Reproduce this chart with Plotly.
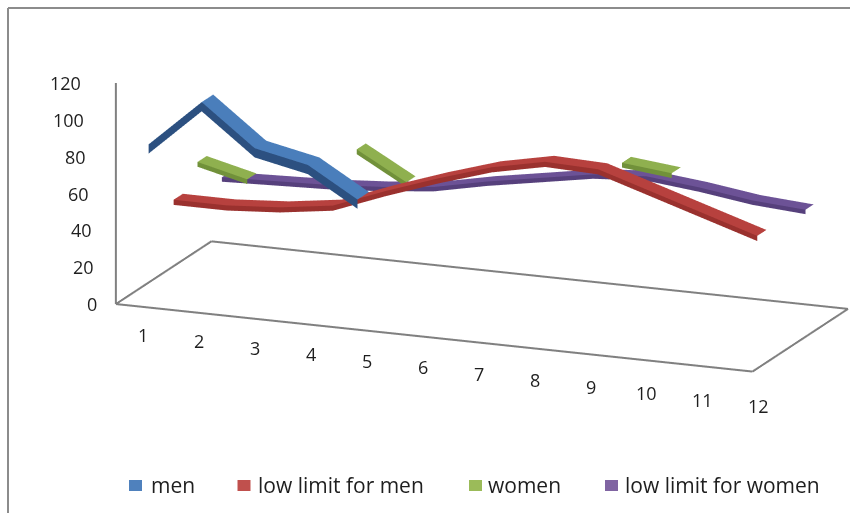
import numpy as np
import plotly.graph_objects as go

# ---------------- data ----------------
categories = list(range(1, 13))
category_labels = [str(c) for c in categories]
series_names = ["men", "low limit for men", "women", "low limit for women"]
men = [86, 112, 90, 84, 67, None, None, None, None, None, None, None]
low_limit_men = [47, 47, 49, 53, 64, 74, 83, 89, 88, 79, 70, 61]
women = [59, 52, None, 75, 59, None, None, None, 83, 80, None, None]
low_limit_women = [42, 43, 44, 46, 49, 55, 60, 65, 67, 64, 60, 58]
value_ticks = [0, 20, 40, 60, 80, 100, 120]

# ---------------- styles ----------------
top_colors = ["#4A7EBB", "#B7413E", "#8FB04F", "#6C5296"]
front_colors = ["#2C5080", "#9A312E", "#71913A", "#56407C"]
legend_colors = ["#4F81BD", "#C0504D", "#9BBB59", "#8064A2"]
half_widths = [0.24, 0.19, 0.19, 0.17]
thickness = [5.0, 2.8, 2.6, 2.4]
FONT = "Open Sans"
TXT = "#1E1E1E"
X_RANGE = [0.5, 12.5]     # chart floor extent (categories)
Y_RANGE = [0.0, 4.0]      # series depth
Z_RANGE = [0.0, 120.0]    # value axis
PAD = [0.05, 0.05, 1.0]   # small symmetric padding so the frame is inside the scene box
W, H = 850, 513
BASE_ASPECT = [2.675, 0.998, 0.8934]

fig = go.Figure()


def flat(color):
    return dict(colorscale=[[0, color], [1, color]], cmin=0, cmax=1, showscale=False,
                lighting=dict(ambient=1, diffuse=0, specular=0, fresnel=0, roughness=1),
                hoverinfo="skip", showlegend=False)


all_series = [men, low_limit_men, women, low_limit_women]
for i, (name, vals) in enumerate(zip(series_names, all_series)):
    z = np.array([np.nan if v is None else v for v in vals], dtype=float)
    depth = i + 0.5
    hw = half_widths[i]
    n = len(categories)
    # front face of the ribbon (vertical band)
    fig.add_trace(go.Surface(
        x=categories, y=[depth - hw, depth - hw], z=np.vstack([z - thickness[i], z]),
        surfacecolor=np.zeros((2, n)), name=name + " (front)", **flat(front_colors[i])))
    # top face of the ribbon
    fig.add_trace(go.Surface(
        x=categories, y=[depth - hw, depth + hw], z=np.vstack([z, z]),
        surfacecolor=np.zeros((2, n)), name=name, **flat(top_colors[i])))

# floor outline and value axis line (frame, built from the axis ranges)
x0, x1 = X_RANGE
y0, y1 = Y_RANGE
z0, z1 = Z_RANGE
frame_line = dict(color="#808080", width=4)
edges = [
    ([x0, x1], [y0, y0], [z0, z0]),   # front edge of floor
    ([x1, x1], [y0, y1], [z0, z0]),   # right edge
    ([x1, x0], [y1, y1], [z0, z0]),   # back edge
    ([x0, x0], [y0, y1], [z0, z0]),   # left edge
    ([x0, x0], [y0, y0], [z0, z1]),   # value axis line
]
for ex_, ey_, ez_ in edges:
    fig.add_trace(go.Scatter3d(x=ex_, y=ey_, z=ez_, mode="lines", line=frame_line,
                               hoverinfo="skip", showlegend=False))

scene_ann = []
for v in value_ticks:
    scene_ann.append(dict(x=x0, y=y0, z=v, text=str(v), showarrow=False,
                          xanchor="right", yanchor="middle",
                          xshift=-17 - 0.133 * v,
                          font=dict(family=FONT, size=18, color=TXT)))
for k, (c, lab) in enumerate(zip(categories, category_labels)):
    scene_ann.append(dict(x=c, y=y0, z=z0, text=lab, showarrow=False,
                          xanchor="center", yanchor="middle",
                          xshift=0.8 + 2.9 * k, yshift=-(28 + 0.87 * k),
                          font=dict(family=FONT, size=18, color=TXT)))

# legend drawn as squares + text
legend_square_x = [129, 237.5, 469, 605]
legend_text_x = [149, 256, 486, 623]
shapes = []
annotations = []
for name, col, sx, tx in zip(series_names, legend_colors, legend_square_x, legend_text_x):
    shapes.append(dict(type="rect", xref="paper", yref="paper",
                       x0=sx / W, x1=(sx + 13) / W, y0=1 - 491 / H, y1=1 - 480 / H,
                       fillcolor=col, line=dict(width=0)))
    annotations.append(dict(xref="paper", yref="paper", x=tx / W, y=1 - 485 / H,
                            text=name, showarrow=False, xanchor="left", yanchor="middle",
                            font=dict(family=FONT, size=21, color=TXT)))
# chart border (left and top visible)
shapes.append(dict(type="line", xref="paper", yref="paper", x0=8 / W, x1=8 / W,
                   y0=-0.05, y1=1 - 8 / H, line=dict(color="#8C8C8C", width=2)))
shapes.append(dict(type="line", xref="paper", yref="paper", x0=8 / W, x1=1.05,
                   y0=1 - 8 / H, y1=1 - 8 / H, line=dict(color="#8C8C8C", width=2)))

ranges = [X_RANGE, Y_RANGE, Z_RANGE]
padded = [[r[0] - p, r[1] + p] for r, p in zip(ranges, PAD)]
aspect = [a * (pr[1] - pr[0]) / (r[1] - r[0]) for a, pr, r in zip(BASE_ASPECT, padded, ranges)]

axis_off = dict(visible=False, showspikes=False, showbackground=False,
                showgrid=False, zeroline=False, showline=False)
fig.update_layout(
    width=W, height=H, margin=dict(l=0, r=0, t=0, b=0),
    paper_bgcolor="white", plot_bgcolor="white",
    font=dict(family=FONT, size=18, color=TXT),
    hovermode=False, showlegend=False,
    shapes=shapes, annotations=annotations,
    scene=dict(
        domain=dict(x=[0, 1], y=[0, 1]),
        xaxis=dict(range=padded[0], **axis_off),
        yaxis=dict(range=padded[1], **axis_off),
        zaxis=dict(range=padded[2], **axis_off),
        aspectmode="manual", aspectratio=dict(x=aspect[0], y=aspect[1], z=aspect[2]),
        camera=dict(projection=dict(type="orthographic"),
                    eye=dict(x=0.6602, y=-2.2375, z=0.3906),
                    center=dict(x=-0.2393, y=0, z=-0.2692),
                    up=dict(x=0, y=0, z=1)),
        annotations=scene_ann,
    ),
)

fig.write_html("out.html", config={"displayModeBar": False},
               post_script="document.body.style.margin='0px';")
